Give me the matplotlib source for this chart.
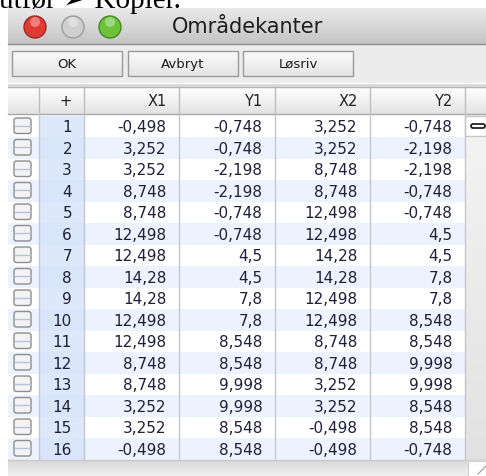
import numpy as np
import matplotlib
matplotlib.use("Agg")
import matplotlib.pyplot as plt
from matplotlib.patches import Rectangle, FancyBboxPatch, Circle

# ---- data ----
title = "Områdekanter"
buttons = ["OK", "Avbryt", "Løsriv"]
headers = ["+", "X1", "Y1", "X2", "Y2"]
row_ids = list(range(1, 17))
X1 = [-0.498, 3.252, 3.252, 8.748, 8.748, 12.498, 12.498, 14.28, 14.28, 12.498, 12.498, 8.748, 8.748, 3.252, 3.252, -0.498]
Y1 = [-0.748, -0.748, -2.198, -2.198, -0.748, -0.748, 4.5, 4.5, 7.8, 7.8, 8.548, 8.548, 9.998, 9.998, 8.548, 8.548]
X2 = [3.252, 3.252, 8.748, 8.748, 12.498, 12.498, 14.28, 14.28, 12.498, 12.498, 8.748, 8.748, 3.252, 3.252, -0.498, -0.498]
Y2 = [-0.748, -2.198, -2.198, -0.748, -0.748, 4.5, 4.5, 7.8, 7.8, 8.548, 8.548, 9.998, 9.998, 8.548, 8.548, -0.748]
caption = "utfør ➢ Kopier."

def fmt(v):
    return f"{v:g}".replace(".", ",")

W, H = 486, 477
fig = plt.figure(figsize=(W / 100, H / 100), dpi=100)
ax = fig.add_axes([0, 0, 1, 1])
ax.set_xlim(0, W)
ax.set_ylim(H, 0)
ax.axis("off")

def vgrad(x0, x1, y0, y1, c0, c1, z=1):
    g = np.linspace(0, 1, 64)[:, None]
    c0 = np.array(matplotlib.colors.to_rgb(c0))
    c1 = np.array(matplotlib.colors.to_rgb(c1))
    img = c0[None, None, :] * (1 - g[..., None]) + c1[None, None, :] * g[..., None]
    img = np.repeat(img, 2, axis=1)
    ax.imshow(img, extent=(x0, x1, y1, y0), aspect="auto", zorder=z, interpolation="bilinear")

font = ["DejaVu Sans"]

# caption text at top (partially cut, as in the screenshot)
ax.text(-1, 7.5, caption, fontsize=21, family=["Liberation Serif", "DejaVu Sans"],
        va="baseline", ha="left", color="black", zorder=5)

# window title bar
vgrad(8, W, 9.5, 45, "#eaeaea", "#c4c4c4", z=1)
ax.plot([8, W], [45, 45], color="#8e8e8e", lw=1, zorder=2)
for cx, col, edge in [(35, "#e23b33", "#9a2a24"), (73, "#cfcfcf", "#9d9d9d"), (110, "#6cc23a", "#3f8a22")]:
    ax.add_patch(Circle((cx, 28), 11, facecolor=col, edgecolor=edge, lw=1, zorder=3))
    ax.add_patch(Circle((cx, 23), 5, facecolor="white", alpha=0.35, edgecolor="none", zorder=4))
ax.text(247, 27, title, fontsize=15, family=font, ha="center", va="center", color="#1e1e1e", zorder=5)

# toolbar
ax.add_patch(Rectangle((8, 45.5), W - 8, 38, facecolor="#ececec", edgecolor="none", zorder=1))
for i, b in enumerate(buttons):
    x0 = 12 + i * 115.5
    vgrad(x0, x0 + 110, 52, 77, "#fbfbfb", "#e4e4e4", z=2)
    ax.add_patch(Rectangle((x0, 52), 110, 25, facecolor="none", edgecolor="#9a9a9a", lw=1, zorder=3))
    ax.text(x0 + 55, 64.5, b, fontsize=9.5, family=font, ha="center", va="center", color="#1a1a1a", zorder=4)

# table
col_edges = [8, 39, 84, 179, 275, 370, 465]
hdr_top, hdr_bot = 88, 115
row_top = 116.5
row_h = 21.5
n = len(row_ids)
tbl_bot = row_top + n * row_h

ax.add_patch(Rectangle((8, hdr_top - 3), W - 8, 3, facecolor="#dcdcdc", edgecolor="none", zorder=1))
vgrad(8, W, hdr_top, hdr_bot, "#ffffff", "#e3e3e3", z=2)
ax.plot([8, W], [hdr_top, hdr_top], color="#b5b5b5", lw=1, zorder=3)
ax.plot([8, W], [hdr_bot, hdr_bot], color="#a8a8a8", lw=1, zorder=3)
for xe in col_edges[1:]:
    ax.plot([xe, xe], [hdr_top, hdr_bot], color="#bdbdbd", lw=1, zorder=3)
for j, h in enumerate(headers):
    xr = col_edges[j + 2] - 12.5
    ax.text(xr, (hdr_top + hdr_bot) / 2 + 0.5, h, fontsize=10.5, family=font,
            ha="right", va="center", color="#222222", zorder=4)

# right gutter
vgrad(465, W, hdr_bot, tbl_bot, "#f4f4f4", "#e2e2e2", z=1)
ax.add_patch(Rectangle((465, row_top), W - 465, row_h - 1, facecolor="white", edgecolor="#c8c8c8", lw=1, zorder=3))
ax.add_patch(FancyBboxPatch((471, row_top + 8.5), 14, 4, boxstyle="round,pad=0,rounding_size=2",
                            facecolor="white", edgecolor="#222222", lw=1.3, zorder=4))

cols = [X1, Y1, X2, Y2]
for i, rid in enumerate(row_ids):
    y0 = row_top + i * row_h
    yc = y0 + row_h / 2 + 0.5
    bg = "#ffffff" if i % 2 == 0 else "#edf3fe"
    ax.add_patch(Rectangle((8, y0), 457, row_h, facecolor=bg, edgecolor="none", zorder=2))
    ax.add_patch(Rectangle((39, y0), 45, row_h, facecolor="#dde8fb" if i % 2 == 0 else "#d9e5fa",
                           edgecolor="none", zorder=2.5))
    # checkbox
    ax.add_patch(FancyBboxPatch((14, y0 + 2.5), 17, 15.5, boxstyle="round,pad=0,rounding_size=2.5",
                                facecolor="#f3f3f3", edgecolor="#8d8d8d", lw=1, zorder=3))
    ax.plot([15, 30], [y0 + 10.2, y0 + 10.2], color="#b9c2dc", lw=1, zorder=3.5)
    ax.text(72, yc, str(rid), fontsize=11, family=font, ha="right", va="center", color="#1f1f3a", zorder=4)
    for j, c in enumerate(cols):
        xr = col_edges[j + 3] - 12.5
        ax.text(xr, yc, fmt(c[i]), fontsize=11, family=font, ha="right", va="center",
                color="#1f1f3a", zorder=4)

for xe in col_edges[1:]:
    ax.plot([xe, xe], [hdr_bot, tbl_bot], color="#c3c6cc", lw=1, zorder=3)

# bottom band
vgrad(8, W, tbl_bot, H, "#d6d6d6", "#f1f1f1", z=1)
ax.plot([8, 465], [tbl_bot, tbl_bot], color="#c9c9c9", lw=1, zorder=3)
ax.add_patch(Rectangle((468, tbl_bot + 1), W - 468, H - tbl_bot, facecolor="white", edgecolor="#d0d0d0", lw=0.8, zorder=3))
ax.plot([478, 486], [475, 467], color="#9a9a9a", lw=0.8, zorder=4)

fig.savefig("out.png", dpi=100)
